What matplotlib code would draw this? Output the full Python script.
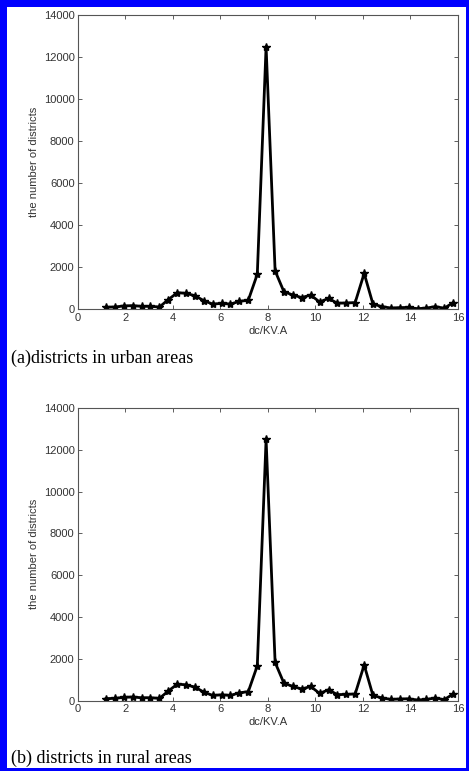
import matplotlib.pyplot as plt
from matplotlib.patches import Rectangle

# dc/KV.A values and district counts
dc = [1.18, 1.55, 1.93, 2.30, 2.68, 3.05, 3.43, 3.80, 4.18, 4.55,
      4.92, 5.30, 5.67, 6.05, 6.42, 6.80, 7.17, 7.55, 7.92, 8.30,
      8.67, 9.05, 9.42, 9.80, 10.17, 10.55, 10.92, 11.30, 11.67, 12.05,
      12.42, 12.80, 13.17, 13.55, 13.92, 14.30, 14.67, 15.05, 15.42, 15.80]
urban = [100, 110, 160, 175, 140, 140, 110, 460, 790, 760,
         650, 410, 250, 280, 250, 380, 430, 1670, 12500, 1830,
         840, 680, 560, 680, 350, 520, 290, 300, 320, 1710,
         250, 130, 60, 80, 90, 30, 60, 130, 50, 320]
rural = [100, 110, 160, 175, 140, 140, 110, 460, 790, 760,
         650, 410, 250, 280, 250, 380, 430, 1670, 12500, 1830,
         840, 680, 560, 680, 350, 520, 290, 300, 320, 1710,
         250, 130, 60, 80, 90, 30, 60, 130, 50, 320]
captions = ['(a)districts in urban areas', '(b) districts in rural areas']

fig = plt.figure(figsize=(4.69, 7.71), dpi=100)
fig.patch.set_facecolor('white')

# blue frame around the whole picture
W, H = 469, 771
for x0, y0, w, h in [(0, H - 7, W, 7), (0, 0, 7, H), (W - 3, 0, 3, H), (0, 0, W, 3)]:
    fig.patches.append(Rectangle((x0 / W, y0 / H), w / W, h / H, transform=fig.transFigure,
                                 facecolor='#0000ff', edgecolor='none'))

tick_col = '#444444'
axes_pos = [[0.1663, 0.5988, 0.8102, 0.3817], [0.1663, 0.0912, 0.8102, 0.3796]]
cap_y = [1 - 358 / H, 1 - 758 / H]

for pos, vals, cap, cy in zip(axes_pos, [urban, rural], captions, cap_y):
    ax = fig.add_axes(pos)
    ax.plot(dc, vals, color='black', lw=2, marker='*', ms=6, mfc='black', mec='black')
    ax.set_xlim(0, 16)
    ax.set_ylim(0, 14000)
    ax.set_xticks(range(0, 17, 2))
    ax.set_yticks(range(0, 14001, 2000))
    ax.tick_params(direction='in', top=True, right=True, length=3, width=0.6,
                   labelsize=8, colors=tick_col, labelcolor='#333333', pad=2.5)
    for s in ax.spines.values():
        s.set_color('#555555')
        s.set_linewidth(0.8)
    ax.set_xlabel('dc/KV.A', fontsize=8, color='#333333', labelpad=2)
    ax.set_ylabel('the number of districts', fontsize=8, color='#333333', labelpad=3)
    for lab in ax.get_xticklabels() + ax.get_yticklabels():
        lab.set_family('Liberation Sans')
    ax.xaxis.label.set_family('Liberation Sans')
    ax.yaxis.label.set_family('Liberation Sans')
    fig.text(11 / W, cy, cap, family='Liberation Serif', fontsize=13, va='center', ha='left')

fig.savefig('out.png', dpi=100)
